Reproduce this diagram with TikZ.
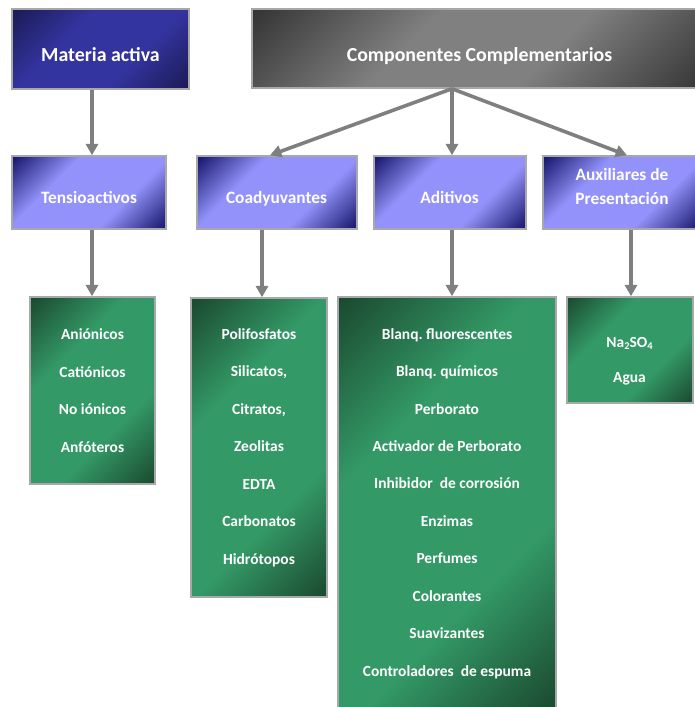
\documentclass[tikz,border=0pt]{standalone}
\usepackage{fontspec}
\setmainfont{Carlito}
\usetikzlibrary{arrows.meta,calc}
\frenchspacing

% palette
\definecolor{navyD}{HTML}{1B1B56}
\definecolor{navyL}{HTML}{3434A0}
\definecolor{violD}{HTML}{16166C}
\definecolor{violL}{HTML}{9292FA}
\definecolor{greyD}{HTML}{353535}
\definecolor{greyL}{HTML}{808080}
\definecolor{grnD}{HTML}{1B4A30}
\definecolor{grnL}{HTML}{339966}
\definecolor{arrowgrey}{HTML}{7F7F7F}
\definecolor{rim}{HTML}{A8A8A8}

% diagonal dark-light-dark fills (used with shading angle=-45)
\pgfdeclarehorizontalshading{navyshade}{100bp}{color(0bp)=(navyD); color(15bp)=(navyD); color(38bp)=(navyL); color(62bp)=(navyL); color(85bp)=(navyD); color(100bp)=(navyD)}
\pgfdeclarehorizontalshading{violshade}{100bp}{color(0bp)=(violD); color(15bp)=(violD); color(36bp)=(violL); color(64bp)=(violL); color(85bp)=(violD); color(100bp)=(violD)}
\pgfdeclarehorizontalshading{greyshade}{100bp}{color(0bp)=(greyD); color(15bp)=(greyD); color(40bp)=(greyL); color(60bp)=(greyL); color(85bp)=(greyD); color(100bp)=(greyD)}
\pgfdeclarehorizontalshading{grnshade}{100bp}{color(0bp)=(grnD); color(15bp)=(grnD); color(36bp)=(grnL); color(64bp)=(grnL); color(85bp)=(grnD); color(100bp)=(grnD)}

\tikzset{
  box/.style={rectangle, draw=rim, line width=1.1pt, inner sep=0pt, shading angle=-45},
  topbox/.style={box, minimum height=60pt},
  midbox/.style={box, minimum height=54.75pt, shading=violshade},
  listfont/.style={font=\fontsize{11.6pt}{28.1pt}\selectfont\bfseries},
  listbox/.style={box, shading=grnshade, text=white, align=center, listfont},
  ttl/.style={text=white, inner sep=0pt, text height=0.65em, text depth=0pt,
    font=\fontsize{14.9pt}{17pt}\selectfont\bfseries},
  sub/.style={text=white, inner sep=0pt, align=center, text height=0.65em, text depth=0pt,
    font=\fontsize{13pt}{17.3pt}\selectfont\bfseries},
  arr/.style={draw=arrowgrey, line width=2.7pt, -{Triangle[width=9pt,length=8.5pt]}}
}

\begin{document}
\begin{tikzpicture}[x=0.75pt, y=-0.75pt]
\useasboundingbox (0,0) rectangle (694,707);

% top level
\node[topbox, shading=navyshade, minimum width=132.75pt] (mat) at (100.5,49) {};
\node[topbox, shading=greyshade, minimum width=341.25pt, minimum height=59.25pt] (comp) at (479.5,48.5) {};
\node[ttl] (matT) at (100.5,57.5) {Materia activa};
\node[ttl] (compT) at (479.5,57.5) {Componentes Complementarios};

% second level
\node[midbox, minimum width=115.5pt] (tens) at (89,192.5) {};
\node[midbox, minimum width=120pt] (coad) at (277,192.5) {};
\node[midbox, minimum width=114pt] (adit) at (450,192.5) {};
\node[midbox, minimum width=118.5pt] (aux) at (622,192.5) {};
\node[sub] (tensT) at (89,199) {Tensioactivos};
\node[sub] (coadT) at (276.5,199) {Coadyuvantes};
\node[sub] (aditT) at (449.5,199) {Aditivos};
\node[sub] (auxT1) at (622,176.5) {Auxiliares de};
\node[sub] (auxT2) at (622,200) {Presentación};

% lists
\node[listbox, minimum width=93.75pt, minimum height=140.25pt] (tlist) at (92.5,390.5)
  {Aniónicos\\Catiónicos\\No iónicos\\Anfóteros};
\node[listbox, minimum width=102pt, minimum height=224.25pt] (clist) at (259,447.5)
  {Polifosfatos\\Silicatos,\\Citratos,\\Zeolitas\\EDTA\\Carbonatos\\Hidrótopos};
\node[listbox, minimum width=163.5pt, minimum height=309.75pt] (alist) at (447,503.5)
  {Blanq. fluorescentes\\Blanq. químicos\\Perborato\\Activador de Perborato\\Inhibidor~ de corrosión\\Enzimas\\Perfumes\\Colorantes\\Suavizantes\\Controladores~ de espuma};
\node[listbox, minimum width=94.5pt, minimum height=79.5pt] (xlist) at (630,350) {};
\node[text=white, align=center, inner sep=0pt, listfont,
  font=\fontsize{11.6pt}{26.3pt}\selectfont\bfseries] (xlistT) at (629.5,361)
  {Na\raisebox{-0.35ex}{\fontsize{7.8pt}{9pt}\selectfont 2}SO\raisebox{-0.35ex}{\fontsize{7.8pt}{9pt}\selectfont 4}\\Agua};

% connector columns
\coordinate (k1) at (92,0);
\coordinate (k2) at (262,0);
\coordinate (k3) at (452,0);
\coordinate (k4) at (631,0);
\coordinate (e2) at (270,0);
\coordinate (e4) at (627,0);

\draw[arr] (mat.south -| k1) -- (tens.north -| k1);
\draw[arr] (comp.south -| k3) -- (coad.north -| e2);
\draw[arr] (comp.south -| k3) -- (adit.north -| k3);
\draw[arr] (comp.south -| k3) -- (aux.north -| e4);
\draw[arr] (tens.south -| k1) -- (tlist.north -| k1);
\draw[arr] (coad.south -| k2) -- (clist.north -| k2);
\draw[arr] (adit.south -| k3) -- (alist.north -| k3);
\draw[arr] (aux.south -| k4) -- (xlist.north -| k4);
\end{tikzpicture}
\end{document}
